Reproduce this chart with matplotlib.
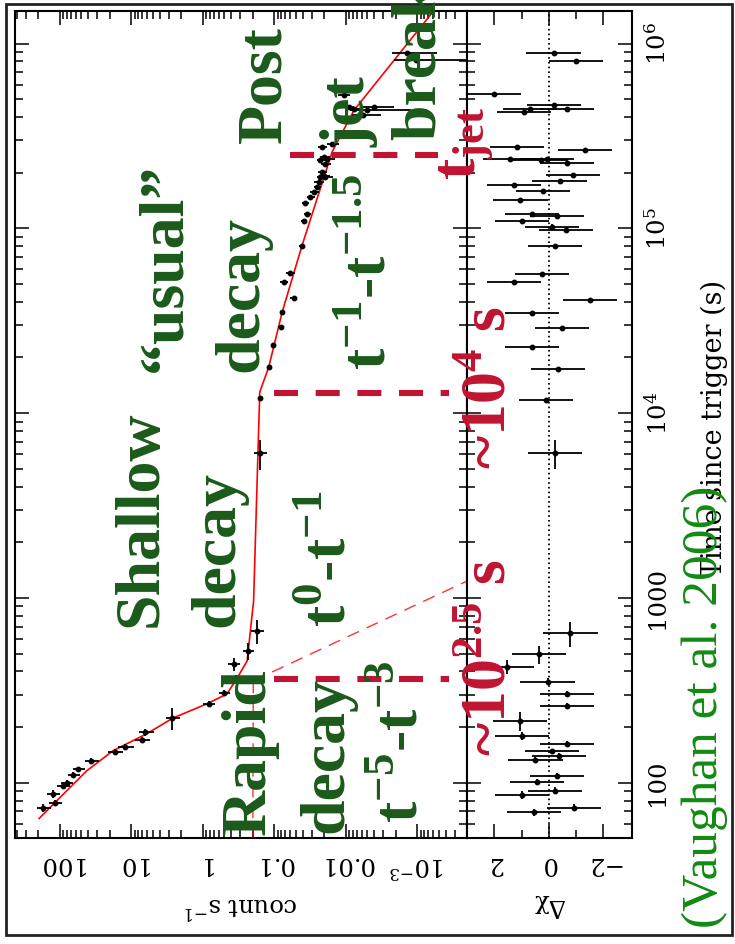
import matplotlib
matplotlib.use("Agg")
import matplotlib.pyplot as plt
from matplotlib.ticker import FixedLocator, FixedFormatter, LogLocator, NullFormatter
from matplotlib.patches import Rectangle

plt.rcParams['mathtext.fontset'] = 'custom'
plt.rcParams['mathtext.rm'] = 'DejaVu Serif'
plt.rcParams['mathtext.it'] = 'DejaVu Serif:italic'
plt.rcParams['mathtext.bf'] = 'Liberation Serif:bold'
plt.rcParams['lines.scale_dashes'] = False

# ---------------- data ----------------
# X-ray light curve (time since trigger [s], count rate [count/s])
lc_time = [73, 78, 87, 96, 100, 110, 118, 131, 147, 156, 170, 188, 223, 266,
           307, 368, 438, 517, 663,
           6050, 12100, 17700, 23500, 29200, 35200, 41900, 51100, 57100,
           80700, 110000, 120000, 137000, 148000, 157000, 167000, 178000,
           189000, 189000, 193000, 202000, 224000, 233000, 236000, 243000,
           275000, 285000,
           410000, 439000, 445000, 454000, 454000, 525000, 811000, 893000]
lc_time_err = [4, 3, 4, 4, 4, 4, 4, 5, 5, 5, 6, 8, 30, 10,
               10, 15, 37, 55, 100,
               1100, 300, 400, 500, 700, 800, 900, 1500, 1500,
               2000, 3000, 3000, 3000, 3000, 3000, 3000, 3000,
               4000, 4000, 4000, 4000, 4000, 5000, 5000, 5000,
               6000, 6000,
               9000, 9000, 9000, 9000, 9000, 10000, 15000, 18000]
lc_rate = [171, 117, 124, 90, 80.5, 65, 55, 36.7, 17, 12.3, 7.2, 6.4, 2.7, 0.83,
           0.51, 0.34, 0.37, 0.234, 0.175,
           0.16, 0.16, 0.12, 0.106, 0.082, 0.077, 0.0537, 0.0741, 0.0597,
           0.0409, 0.0389, 0.0348, 0.0368, 0.0313, 0.0281, 0.0252, 0.0239,
           0.0227, 0.0193, 0.0199, 0.0215, 0.0193, 0.0227, 0.0183, 0.0199,
           0.0215, 0.0155,
           0.0057, 0.00502, 0.00774, 0.0091, 0.0041, 0.0107, 0.00106, 0.00138]
lc_rate_err = [40, 25, 25, 18, 15, 12, 10, 8, 4, 3, 1.8, 1.5, 0.6, 0.15,
               0.09, 0.05, 0.07, 0.04, 0.035,
               0.035, 0.01, 0.008, 0.007, 0.006, 0.006, 0.006, 0.009, 0.008,
               0.004, 0.004, 0.004, 0.004, 0.004, 0.004, 0.003, 0.004,
               0.003, 0.004, 0.003, 0.003, 0.003, 0.003, 0.004, 0.003,
               0.003, 0.003,
               0.0025, 0.0038, 0.0015, 0.0015, 0.002, 0.002, 0.00104, 0.00085]

# best-fit model, broken power law nodes (time [s], count/s)
fit_time = [64, 83, 116, 149, 184, 224, 267, 302, 369, 456, 963, 13000,
            17700, 35000, 80700, 260000, 435000, 1510000]
fit_rate = [195, 100, 42, 18, 6.1, 2.6, 0.88, 0.46, 0.33, 0.24, 0.195, 0.16,
            0.12, 0.078, 0.041, 0.0155, 0.0077, 0.000585]

# individual components extrapolated past the first break
steep_ext_time = [356, 1253]
steep_ext_rate = [0.197, 0.000185]
plateau_ext_time = [356, 50]
plateau_ext_rate = [0.197, 0.2]

# break times marked on the curve, with the count-rate span of each marker
break_time = [363, 12800, 250000]
break_rate_from = [0.102, 0.102, 0.0597]
break_rate_to = [0.00036, 0.00036, 0.00052]

# residuals (time [s], delta chi)
res_time = [69.3, 73.3, 85.8, 90.5, 101, 109, 132, 139, 148, 162, 179, 216,
            260, 303, 352, 425, 495, 644,
            6070, 11800, 17400, 22900, 28700, 34700, 40900, 51000, 56600,
            80000, 97500, 102000, 109000, 116000, 120000, 142000, 160000,
            172000, 180000, 194000, 227000, 233000, 236000, 237000, 266000,
            274000, 425000, 441000, 441000, 463000, 530000,
            800000, 890000]
res_time_err = [3, 3, 4, 4, 4, 4, 5, 5, 5, 6, 8, 25,
                10, 12, 15, 37, 55, 100,
                1100, 300, 400, 500, 700, 800, 900, 1500, 1500,
                2000, 3000, 3000, 3000, 3000, 3000, 3000, 3000,
                3000, 3000, 4000, 4000, 4000, 4000, 4000, 6000,
                6000, 9000, 9000, 9000, 9000, 10000,
                15000, 18000]
res_val = [0.53, -0.92, 0.98, -0.24, 0.43, -0.31, 0.49, -0.37, -0.12, -0.67,
           0.98, 1.06, -0.67, -0.67, 0.04, 1.55, 0.37, -0.80,
           -0.24, 0.09, -0.33, 0.61, -0.49, 0.61, -1.53, 1.28, 0.24,
           -0.24, -0.65, -0.12, 0.98, -0.31, 0.61, 1.04, 0.2,
           1.28, -0.4, -0.9, -0.67, 0.3, 0.06, 1.41, -1.35,
           1.16, 0.9, 0.70, -0.67, -0.2, 2.02,
           -1.02, -0.18]

count_ticks = [100, 10, 1, 0.1, 0.01, 0.001]
count_tick_labels = ['100', '10', '1', '0.1', '0.01', r'$10^{-3}$']
time_ticks = [100, 1000, 1e4, 1e5, 1e6]
time_tick_labels = ['100', '1000', r'$10^{4}$', r'$10^{5}$', r'$10^{6}$']
res_ticks = [2, 0, -2]
res_tick_labels = ['2', '0', '\u22122']

# ---------------- figure ----------------
W, H = 735, 944
fig = plt.figure(figsize=(W / 100, H / 100), dpi=100)


def fx(x):
    return x / W


def fy(y):
    return 1 - y / H


L, XM, XR, T, B = 15.3, 467.3, 631.7, 11.0, 838.3
ax = fig.add_axes([fx(L), fy(B), fx(XM) - fx(L), fy(T) - fy(B)])
axr = fig.add_axes([fx(XM), fy(B), fx(XR) - fx(XM), fy(T) - fy(B)], sharey=ax)

tick_font = dict(family='DejaVu Serif', size=17.5)
green = '#1b5a1b'
crimson = '#c01432'

# light-curve panel: time runs upward, count rate decreases to the right
ax.set_xscale('log')
ax.set_yscale('log')
ax.set_xlim(420, 2e-4)
ax.set_ylim(50, 1.5e6)

ax.plot(fit_rate, fit_time, color='red', lw=1.2, zorder=4)
ax.plot(steep_ext_rate, steep_ext_time, color='red', lw=1.0, alpha=0.8,
        dashes=(9, 6), zorder=2)
ax.plot(plateau_ext_rate, plateau_ext_time, color='red', lw=1.0, alpha=0.8,
        dashes=(9, 6), zorder=2)
ax.errorbar(lc_rate, lc_time, xerr=lc_rate_err, yerr=lc_time_err, fmt='o',
            ms=3.2, color='black', ecolor='black', elinewidth=1.3, capsize=0,
            zorder=5)

for bt, r0, r1 in zip(break_time, break_rate_from, break_rate_to):
    ax.plot([r0, r1], [bt, bt], color=crimson, lw=4.4, dashes=(17.3, 12.7),
            solid_capstyle='butt', zorder=6)

ax.xaxis.set_major_locator(FixedLocator(count_ticks))
ax.xaxis.set_major_formatter(FixedFormatter(count_tick_labels))
ax.xaxis.set_minor_locator(LogLocator(base=10, subs=range(2, 10), numticks=20))
ax.xaxis.set_minor_formatter(NullFormatter())
ax.yaxis.set_major_locator(FixedLocator(time_ticks))
ax.yaxis.set_major_formatter(FixedFormatter(time_tick_labels))
ax.yaxis.set_minor_locator(LogLocator(base=10, subs=range(2, 10), numticks=20))
ax.yaxis.set_minor_formatter(NullFormatter())

ax.tick_params(which='both', direction='in', top=True, bottom=True,
               left=True, right=True, labelleft=False, labelbottom=True,
               width=1.1)
ax.tick_params(which='major', length=10)
ax.tick_params(which='minor', length=5.5)
ax.tick_params(axis='x', pad=10)
for lab in ax.get_xticklabels():
    lab.set_rotation(180)
    lab.set_fontfamily('DejaVu Serif')
    lab.set_fontsize(17.5)

# residual panel
axr.set_xlim(3, -3.06)
axr.axvline(0, color='black', lw=1.3, ls=(0, (1.2, 2.2)), zorder=1)
axr.errorbar(res_val, res_time, xerr=1.0, yerr=res_time_err, fmt='o', ms=3.2,
             color='black', ecolor='black', elinewidth=1.3, capsize=0,
             zorder=5)
axr.xaxis.set_major_locator(FixedLocator(res_ticks))
axr.xaxis.set_major_formatter(FixedFormatter(res_tick_labels))
axr.xaxis.set_minor_locator(FixedLocator([1, -1]))
axr.tick_params(which='both', direction='in', top=True, bottom=True,
                left=True, right=True, labelleft=False, labelright=True,
                width=1.1)
axr.tick_params(which='major', length=10)
axr.tick_params(which='minor', length=5.5)
axr.tick_params(axis='x', pad=10)
axr.tick_params(axis='y', pad=10)
for lab in axr.get_xticklabels():
    lab.set_rotation(180)
    lab.set_fontfamily('DejaVu Serif')
    lab.set_fontsize(17.5)
for lab in axr.get_yticklabels():
    lab.set_rotation(90)
    lab.set_va('center')
    lab.set_fontfamily('DejaVu Serif')
    lab.set_fontsize(17.5)

for a in (ax, axr):
    for s in a.spines.values():
        s.set_linewidth(1.5)

# axis titles
fig.text(fx(241), fy(906), 'count s$^{-1}$', rotation=180, ha='center',
         va='center', **tick_font)
fig.text(fx(549), fy(906), '\u0394\u03c7', rotation=180, ha='center',
         va='center', **tick_font)
fig.text(fx(714), fy(428), 'Time since trigger (s)', rotation=90,
         ha='center', va='center', family='DejaVu Serif', size=19.5)

# phase annotations (baseline x, start y in pixels), reading upward
green_notes = [
    ('Shallow', 157, 627),
    ('decay', 233, 627),
    ('\u201cusual\u201d', 180, 372),
    ('decay', 257, 372),
    ('Post', 280, 143),
    ('jet', 365, 147),
    ('break', 435, 140),
    ('Rapid', 265, 835),
    ('decay', 342, 833),
    (r't$^{\mathbf{-5}}$-t$^{\mathbf{-3}}$', 418, 823),
    (r't$^{\mathbf{0}}$-t$^{\mathbf{-1}}$', 345, 627),
    (r't$^{\mathbf{-1}}$-t$^{\mathbf{-1.5}}$', 385, 370),
]
for txt, bx, sy in green_notes:
    fig.text(fx(bx), fy(sy), txt, rotation=90, rotation_mode='anchor',
             ha='left', va='baseline', color=green, fontsize=46,
             family='Liberation Serif', weight='bold', zorder=10)

red_notes = [
    (r'~10$^{\mathbf{2.5}}$ s', 505, 756),
    (r'~10$^{\mathbf{4}}$ s', 505, 469),
    (r't$_{\mathbf{jet}}$', 475, 180),
]
for txt, bx, sy in red_notes:
    fig.text(fx(bx), fy(sy), txt, rotation=90, rotation_mode='anchor',
             ha='left', va='baseline', color=crimson, fontsize=46,
             family='Liberation Serif', weight='bold', zorder=10)

fig.text(fx(717), fy(928), '(Vaughan et al. 2006)', rotation=90,
         rotation_mode='anchor', ha='left', va='baseline', color='#128a12',
         fontsize=37, family='Liberation Serif', zorder=10)

fig.add_artist(Rectangle((fx(5.5), fy(935)), fx(732) - fx(5.5),
                         fy(4) - fy(935), transform=fig.transFigure,
                         fill=False, lw=2.0, ec='#222222'))

fig.savefig('out.png', dpi=100)
